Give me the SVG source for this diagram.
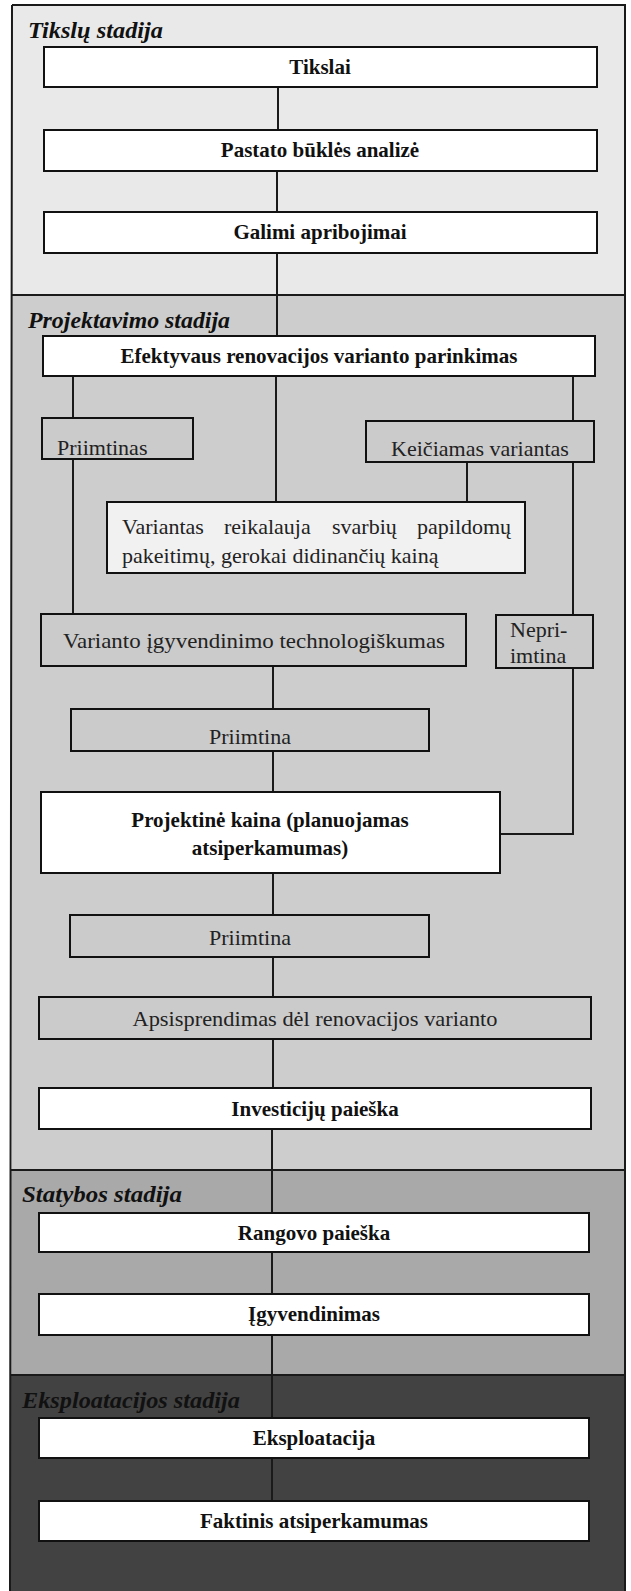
<svg xmlns="http://www.w3.org/2000/svg" width="631" height="1591" viewBox="0 0 631 1591">
<style>
.box{stroke:#111;stroke-width:2}
.w{fill:#ffffff}
.s{fill:#cbcbcb}
.lw{fill:#f1f1f1}
.b{font-family:"Liberation Serif","Times New Roman",serif;font-weight:bold;font-size:21px;fill:#111;text-anchor:middle}
.r{font-family:"Liberation Serif","Times New Roman",serif;font-size:22px;fill:#222}
.rc{text-anchor:middle}
.st{font-family:"Liberation Serif","Times New Roman",serif;font-style:italic;font-weight:bold;font-size:23px;fill:#111}
.ln{stroke:#1a1a1a;stroke-width:2;fill:none}
</style>
<rect x="0" y="0" width="631" height="1591" fill="#ffffff"/>
<g id="stages">
<rect x="12" y="5" width="613" height="290" fill="#e9e9e9"/>
<rect x="12" y="295" width="613" height="875" fill="#cdcdcd"/>
<rect x="11" y="1170" width="614" height="205" fill="#a9a9a9"/>
<rect x="10" y="1375" width="615" height="216" fill="#424242"/>
<path d="M12 5 H625 V1591 M12 5 L10 1591" class="ln"/>
<path d="M12 295 H625 M11 1170 H625 M10 1375 H625" class="ln"/>
<text class="st" x="28" y="38" textLength="135" lengthAdjust="spacingAndGlyphs">Tiksl&#371; stadija</text>
<text class="st" x="28" y="328" textLength="202" lengthAdjust="spacingAndGlyphs">Projektavimo stadija</text>
<text class="st" x="22" y="1202" textLength="160" lengthAdjust="spacingAndGlyphs">Statybos stadija</text>
<text class="st" x="22" y="1408" textLength="218" lengthAdjust="spacingAndGlyphs">Eksploatacijos stadija</text>
</g>
<g id="connectors">
<path class="ln" d="M278 87 V130 M277 171 V212 M277 253 V336 M276 376 V502"/>
<path class="ln" d="M73 376 V418 M73 459 V614"/>
<path class="ln" d="M573 376 V421 M573 462 V615 M573 668 V834 H500"/>
<path class="ln" d="M467 462 V502"/>
<path class="ln" d="M273 666 V709 M273 751 V792 M273 873 V915 M273 957 V997 M273 1039 V1088"/>
<path class="ln" d="M272 1129 V1213 M272 1252 V1294 M272 1335 V1418 M272 1458 V1501"/>
</g>
<g id="tikslai"><rect class="box w" x="44" y="47" width="553" height="40"/><text class="b" x="320" y="74">Tikslai</text></g>
<g id="pastato"><rect class="box w" x="44" y="130" width="553" height="41"/><text class="b" x="320" y="157">Pastato būklės analizė</text></g>
<g id="galimi"><rect class="box w" x="44" y="212" width="553" height="41"/><text class="b" x="320" y="239">Galimi apribojimai</text></g>
<g id="efektyvaus"><rect class="box w" x="43" y="336" width="552" height="40"/><text class="b" x="319" y="363">Efektyvaus renovacijos varianto parinkimas</text></g>
<g id="priimtinas"><rect class="box s" x="42" y="418" width="151" height="41"/><text class="r" x="57" y="455">Priimtinas</text></g>
<g id="keiciamas"><rect class="box s" x="366" y="421" width="228" height="41"/><text class="r rc" x="480" y="456">Keičiamas variantas</text></g>
<g id="variantas"><rect class="box lw" x="107" y="502" width="418" height="71"/>
<text class="r" y="534"><tspan x="122">Variantas</tspan><tspan x="224">reikalauja</tspan><tspan x="332">svarbių</tspan><tspan x="417">papildomų</tspan></text>
<text class="r" x="122" y="563">pakeitimų, gerokai didinančių kainą</text></g>
<g id="technologiskumas"><rect class="box s" x="41" y="614" width="425" height="52"/><text class="r" x="63" y="648" textLength="382" lengthAdjust="spacingAndGlyphs">Varianto  įgyvendinimo technologiškumas</text></g>
<g id="nepriimtina"><rect class="box s" x="496" y="615" width="97" height="53"/><text class="r" x="510" y="637">Nepri-</text><text class="r" x="510" y="663">imtina</text></g>
<g id="priimtina1"><rect class="box s" x="71" y="709" width="358" height="42"/><text class="r rc" x="250" y="744">Priimtina</text></g>
<g id="projektine"><rect class="box w" x="41" y="792" width="459" height="81"/><text class="b" x="270" y="827">Projektinė kaina (planuojamas</text><text class="b" x="270" y="855">atsiperkamumas)</text></g>
<g id="priimtina2"><rect class="box s" x="70" y="915" width="359" height="42"/><text class="r rc" x="250" y="945">Priimtina</text></g>
<g id="apsisprendimas"><rect class="box s" x="39" y="997" width="552" height="42"/><text class="r rc" x="315" y="1026" textLength="365" lengthAdjust="spacingAndGlyphs">Apsisprendimas dėl renovacijos varianto</text></g>
<g id="investiciju"><rect class="box w" x="39" y="1088" width="552" height="41"/><text class="b" x="315" y="1116">Investicijų paieška</text></g>
<g id="rangovo"><rect class="box w" x="39" y="1213" width="550" height="39"/><text class="b" x="314" y="1240">Rangovo paieška</text></g>
<g id="igyvendinimas"><rect class="box w" x="39" y="1294" width="550" height="41"/><text class="b" x="314" y="1321">Įgyvendinimas</text></g>
<g id="eksploatacija"><rect class="box w" x="39" y="1418" width="550" height="40"/><text class="b" x="314" y="1445">Eksploatacija</text></g>
<g id="faktinis"><rect class="box w" x="39" y="1501" width="550" height="40"/><text class="b" x="314" y="1528">Faktinis atsiperkamumas</text></g>
</svg>
